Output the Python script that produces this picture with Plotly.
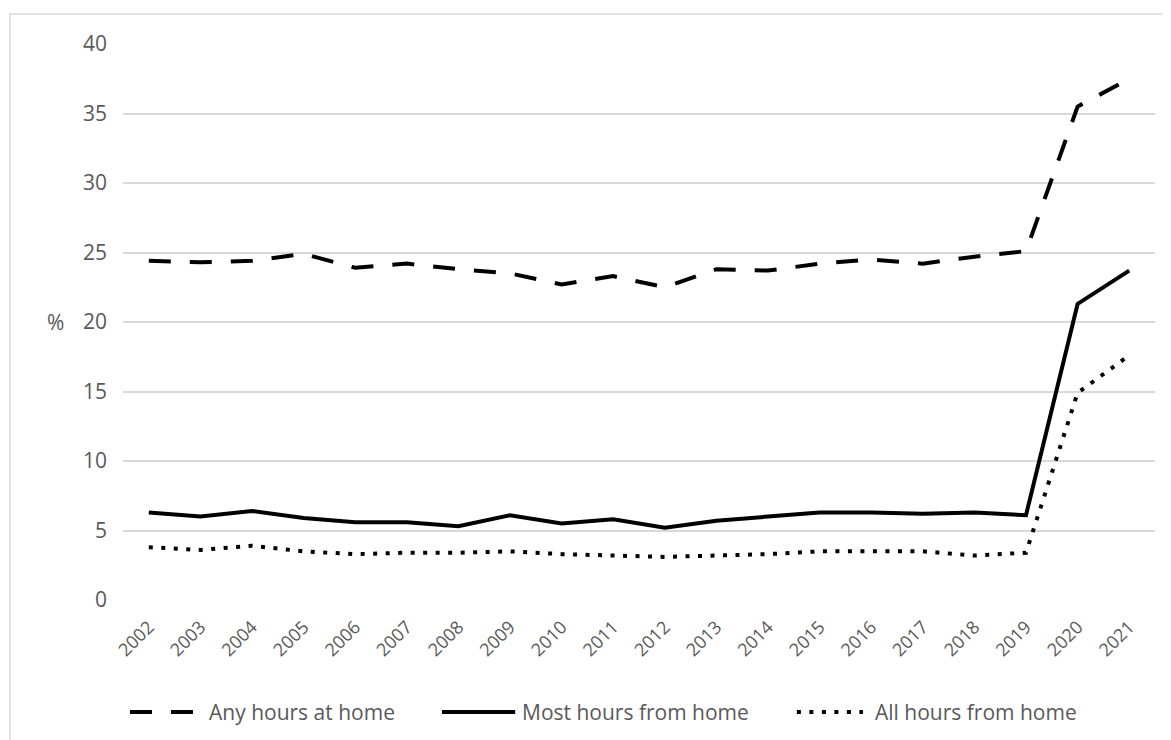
import plotly.graph_objects as go

years = [str(y) for y in range(2002, 2022)]
any_hours = [24.4, 24.3, 24.4, 24.9, 23.9, 24.2, 23.8, 23.5, 22.7, 23.3, 22.5, 23.8, 23.7, 24.2, 24.5, 24.2, 24.7, 25.1, 35.5, 37.5]
most_hours = [6.3, 6.0, 6.4, 5.9, 5.6, 5.6, 5.3, 6.1, 5.5, 5.8, 5.2, 5.7, 6.0, 6.3, 6.3, 6.2, 6.3, 6.1, 21.3, 23.7]
all_hours = [3.8, 3.6, 3.9, 3.5, 3.3, 3.4, 3.4, 3.5, 3.3, 3.2, 3.1, 3.2, 3.3, 3.5, 3.5, 3.5, 3.2, 3.4, 14.9, 17.6]
series_names = ["Any hours at home", "Most hours from home", "All hours from home"]
y_ticks = [0, 5, 10, 15, 20, 25, 30, 35, 40]

font_family = "Open Sans, Liberation Sans, sans-serif"
text_color = "#595959"
dash_any = "22px,19px"
dash_all = "4px,8.5px"

fig = go.Figure()
fig.add_trace(go.Scatter(x=years, y=any_hours, mode="lines", name=series_names[0],
                         line=dict(color="black", width=4, dash=dash_any)))
fig.add_trace(go.Scatter(x=years, y=most_hours, mode="lines", name=series_names[1],
                         line=dict(color="black", width=4)))
fig.add_trace(go.Scatter(x=years, y=all_hours, mode="lines", name=series_names[2],
                         line=dict(color="black", width=4, dash=dash_all)))

# manual legend (longer symbols like the reference)
leg_y = -0.2014
legend_items = [
    (0.0068, 0.0746, 0.0814, dash_any, series_names[0]),
    (0.309, 0.380, 0.3847, "solid", series_names[1]),
    (0.653, 0.717, 0.7267, dash_all, series_names[2]),
]
shapes = [dict(type="rect", xref="paper", yref="paper",
               x0=-0.1095, x1=1.0145, y0=-0.26, y1=1.054,
               line=dict(color="#d9d9d9", width=1.5), layer="below")]
annotations = [dict(text="%", xref="paper", yref="paper", x=-0.065, y=0.5,
                    xanchor="center", yanchor="middle", showarrow=False,
                    font=dict(size=21, color=text_color))]
for x0, x1, xt, dash, name in legend_items:
    shapes.append(dict(type="line", xref="paper", yref="paper", x0=x0, x1=x1,
                       y0=leg_y, y1=leg_y, line=dict(color="black", width=4, dash=dash)))
    annotations.append(dict(text=name, xref="paper", yref="paper", x=xt, y=leg_y,
                            xanchor="left", yanchor="middle", showarrow=False,
                            font=dict(size=21, color=text_color)))

fig.update_layout(
    width=1163, height=732,
    margin=dict(l=115, r=16, t=36, b=140),
    paper_bgcolor="white", plot_bgcolor="white",
    font=dict(family=font_family, size=16, color=text_color),
    showlegend=False,
    xaxis=dict(type="category", range=[-0.5, 19.5], tickangle=-45, showgrid=False,
               showline=False, ticks="", tickfont=dict(size=18, color=text_color),
               zeroline=False, ticklabelstandoff=12),
    yaxis=dict(range=[0, 40], tickvals=y_ticks, showgrid=True, gridcolor="#d9d9d9",
               gridwidth=1.5, zeroline=False, showline=False, ticks="",
               tickfont=dict(size=21, color=text_color), ticklabelstandoff=15),
    shapes=shapes,
    annotations=annotations,
)

fig.write_html("out.html")
